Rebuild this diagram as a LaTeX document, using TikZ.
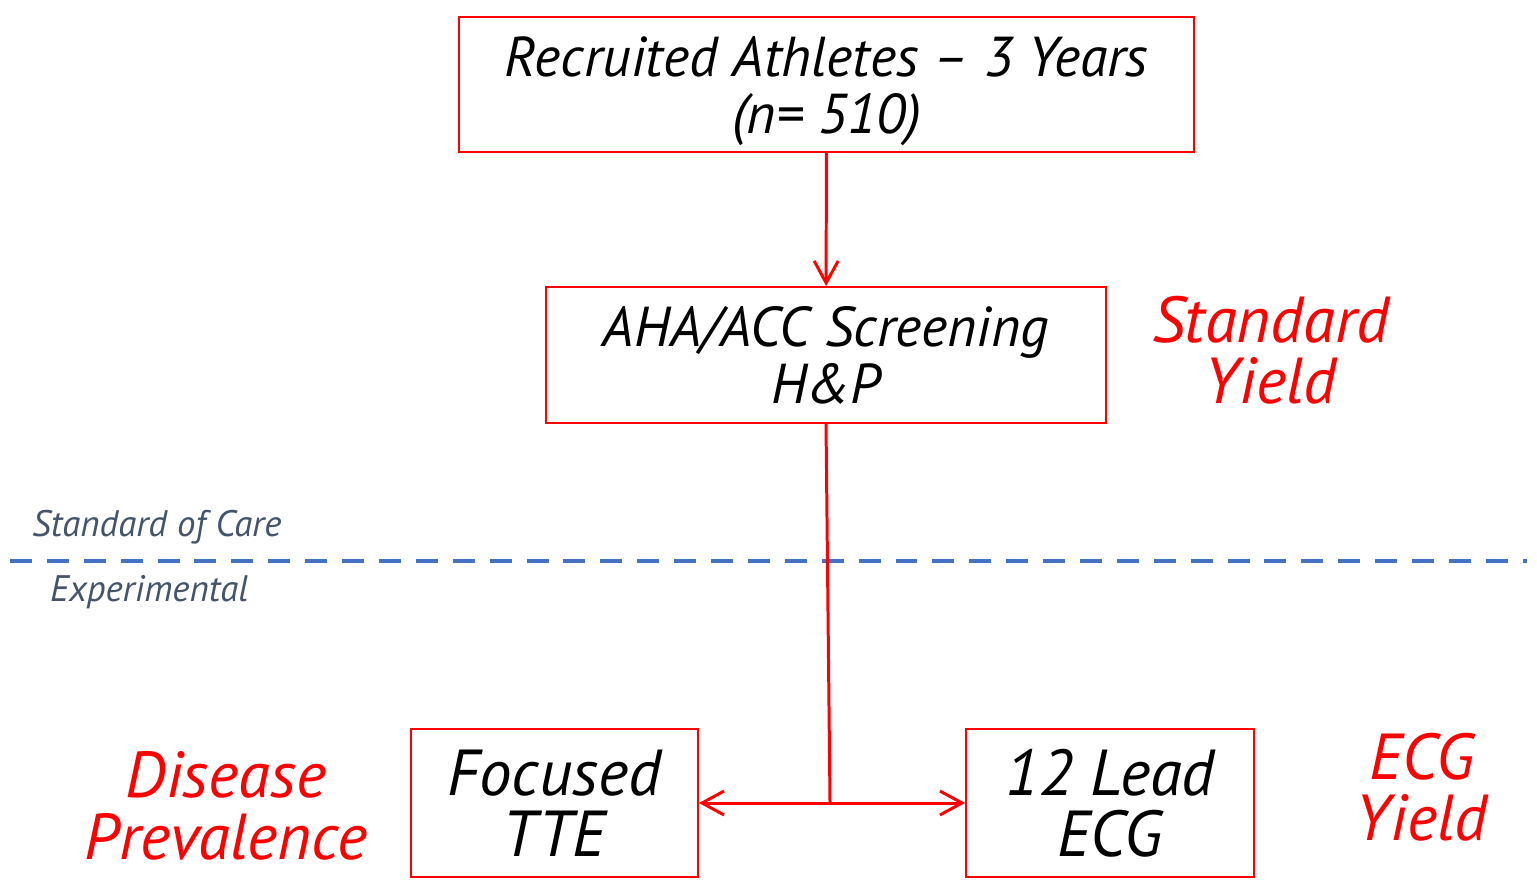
\documentclass[tikz,border=0pt]{standalone}
\usepackage{fontspec}
\setmainfont{PT Sans}
\usetikzlibrary{arrows.meta}
\definecolor{dashblue}{RGB}{68,114,196}
\definecolor{slategray}{RGB}{68,84,106}
\begin{document}
\begin{tikzpicture}[x=0.02cm,y=-0.02cm,
  main node/.style={draw=red,line width=1.1pt,align=center,inner sep=0pt,font=\itshape\fontsize{32}{32.5}\selectfont},
  big node/.style={main node,font=\itshape\fontsize{37}{35}\selectfont},
  yield label/.style={align=center,text=red,font=\itshape\fontsize{37}{35}\selectfont},
  side label/.style={anchor=west,text=slategray,font=\itshape\fontsize{21}{24}\selectfont},
  flow/.style={draw=red,line width=1.7pt}]
  \useasboundingbox (0,0) rectangle (1537,879);

  \node[main node,minimum width=14.7cm,minimum height=2.7cm] (1) at (826.5,84.5) {\rule{0pt}{30.5pt}Recruited Athletes -- 3 Years\\(n= 510)};
  \node[main node,minimum width=11.2cm,minimum height=2.72cm] (2) at (826,355) {AHA/ACC Screening\\H\&P};
  \node[big node,minimum width=5.74cm,minimum height=2.96cm] (3) at (554.5,803) {Focused\\TTE};
  \node[big node,minimum width=5.76cm,minimum height=2.96cm] (4) at (1110,803) {12 Lead\\ECG};
  \coordinate (5) at (830,802);

  \node[yield label] (6) at (1271,350) {Standard\\Yield};
  \node[yield label] (7) at (226,806) {Disease\\Prevalence};
  \node[yield label] (8) at (1422,787) {ECG\\Yield};

  \draw[dashblue,line width=2.3pt,dash pattern=on 12.5pt off 8.5pt] (10,561) -- (1527,561);
  \node[side label] (9) at (26,527) {Standard of Care};
  \node[side label] (10) at (44,592) {Experimental};

  \path[flow,-{Straight Barb[length=4.4mm,width=4.8mm]}]
   (1) edge (2);
  \draw[flow] (2.south) -- (5);
  \draw[flow,{Straight Barb[length=4.4mm,width=4.8mm]}-{Straight Barb[length=4.4mm,width=4.8mm]}] (3.east) -- (4.west);
\end{tikzpicture}
\end{document}
